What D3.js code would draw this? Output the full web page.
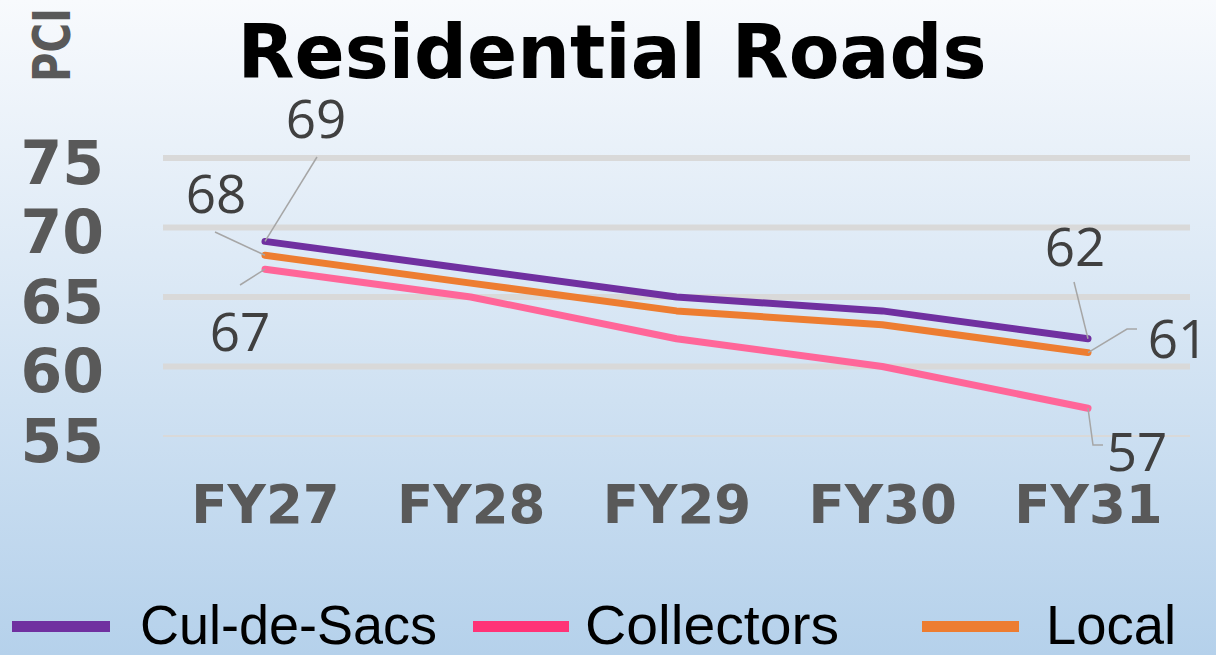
<!DOCTYPE html>
<html><head><meta charset="utf-8">
<script src="https://cdn.jsdelivr.net/npm/d3@7/dist/d3.min.js"></script>
<style>html,body{margin:0;padding:0;overflow:hidden;background:#fff}</style>
</head><body>
<svg id="chart" width="1216" height="655"></svg>
<script>
const categories = ["FY27", "FY28", "FY29", "FY30", "FY31"];
const seriesNames = ["Cul-de-Sacs", "Collectors", "Local"];
const culDeSacs = [69, 67, 65, 64, 62];
const collectors = [67, 65, 62, 60, 57];
const local = [68, 66, 64, 63, 61];
const yTicks = [55, 60, 65, 70, 75];
const lineColors = ["#7030a0", "#ff6699", "#ed7d31"];
const legendColors = ["#7030a0", "#ff3377", "#ed7d31"];
const title = "Residential Roads";
const yTitle = "PCI";

const svg = d3.select("#chart");
const W = 1216, H = 655;

const defs = svg.append("defs");
const g = defs.append("linearGradient").attr("id","bg").attr("x1",0).attr("y1",0).attr("x2",0).attr("y2",1);
g.append("stop").attr("offset","0%").attr("stop-color","#f8fafd");
g.append("stop").attr("offset","100%").attr("stop-color","#b5d1eb");
svg.append("rect").attr("width",W).attr("height",H).attr("fill","url(#bg)");

const x = d3.scalePoint().domain(categories).range([265, 1088]);
const y = d3.scaleLinear().domain([55, 75]).range([436, 158]);

// gridlines
svg.append("g").selectAll("line").data(yTicks).join("line")
  .attr("x1",163).attr("x2",1190)
  .attr("y1",d=>y(d)).attr("y2",d=>y(d))
  .attr("stroke","#d9d9d9")
  .attr("stroke-width",d=> d===55 ? 2 : 6);

// y axis labels
const yAxis = d3.axisLeft(y).tickValues(yTicks).tickSize(0).tickPadding(0);
const ya = svg.append("g").attr("transform","translate(104,0)").call(yAxis);
ya.select(".domain").remove();
ya.selectAll("text").attr("font-family","DejaVu Sans").attr("font-weight","bold")
  .attr("font-size",60).attr("fill","#595959").attr("dy",null)
  .attr("dominant-baseline","auto").attr("transform","translate(0,25)");

// x axis labels
const xAxis = d3.axisBottom(x).tickSize(0).tickPadding(0);
const xa = svg.append("g").call(xAxis);
xa.select(".domain").remove();
xa.selectAll("text").attr("font-family","DejaVu Sans").attr("font-weight","bold")
  .attr("font-size",53).attr("fill","#595959").attr("dy",null).attr("y",523);

// title
svg.append("text").attr("x",612).attr("y",78).attr("text-anchor","middle")
  .attr("font-family","DejaVu Sans").attr("font-weight","bold").attr("font-size",74)
  .attr("fill","#000").text(title);
svg.append("text").attr("transform","translate(70,45) rotate(-90)").attr("text-anchor","middle")
  .attr("font-family","DejaVu Sans").attr("font-weight","bold").attr("font-size",52)
  .attr("textLength",74).attr("lengthAdjust","spacingAndGlyphs")
  .attr("fill","#595959").text(yTitle);

// lines
const series = [culDeSacs, collectors, local];
const line = d3.line().x((d,i)=>x(categories[i])).y(d=>y(d));
const drawOrder = [1, 2, 0];
drawOrder.forEach(si=>{
  svg.append("path").datum(series[si]).attr("d",line)
    .attr("fill","none").attr("stroke",lineColors[si]).attr("stroke-width",7)
    .attr("stroke-linecap","round").attr("stroke-linejoin","round");
});

// data labels with leader lines (first and last points)
const labels = [
  {s:0,i:0,lx:316,ly:117,pts:[[317,157]]},
  {s:2,i:0,lx:216,ly:192,pts:[[215,232]]},
  {s:1,i:0,lx:240,ly:330,pts:[[240,285]]},
  {s:0,i:4,lx:1075,ly:245,pts:[[1074,282]]},
  {s:2,i:4,lx:1178,ly:337,pts:[[1137,329],[1127,329]]},
  {s:1,i:4,lx:1137,ly:450,pts:[[1103,445],[1093,445]]}
];
labels.forEach(l=>{
  const px = x(categories[l.i]), py = y(series[l.s][l.i]);
  const p = [...l.pts, [px, py]];
  svg.append("path").attr("d", d3.line()(p)).attr("fill","none")
    .attr("stroke","#a6a6a6").attr("stroke-width",1.5);
  svg.append("text").attr("x",l.lx).attr("y",l.ly).attr("text-anchor","middle")
    .attr("dominant-baseline","central")
    .attr("font-family","Open Sans").attr("font-size",53).attr("fill","#404040")
    .text(series[l.s][l.i]);
});

// legend
const legendItems = [
  {sx:12, sw:98, tx:140, tw:297},
  {sx:473, sw:96, tx:585, tw:254},
  {sx:922, sw:97, tx:1046, tw:130}
];
legendItems.forEach((it,k)=>{
  svg.append("rect").attr("x",it.sx).attr("y",621).attr("width",it.sw).attr("height",11)
    .attr("fill",legendColors[k]);
  svg.append("text").attr("x",it.tx).attr("y",644)
    .attr("font-family","Liberation Sans Narrow, Liberation Sans, sans-serif")
    .attr("font-size",56).attr("fill","#000")
    .attr("textLength",it.tw).attr("lengthAdjust","spacingAndGlyphs")
    .text(seriesNames[k]);
});
</script>
</body></html>
